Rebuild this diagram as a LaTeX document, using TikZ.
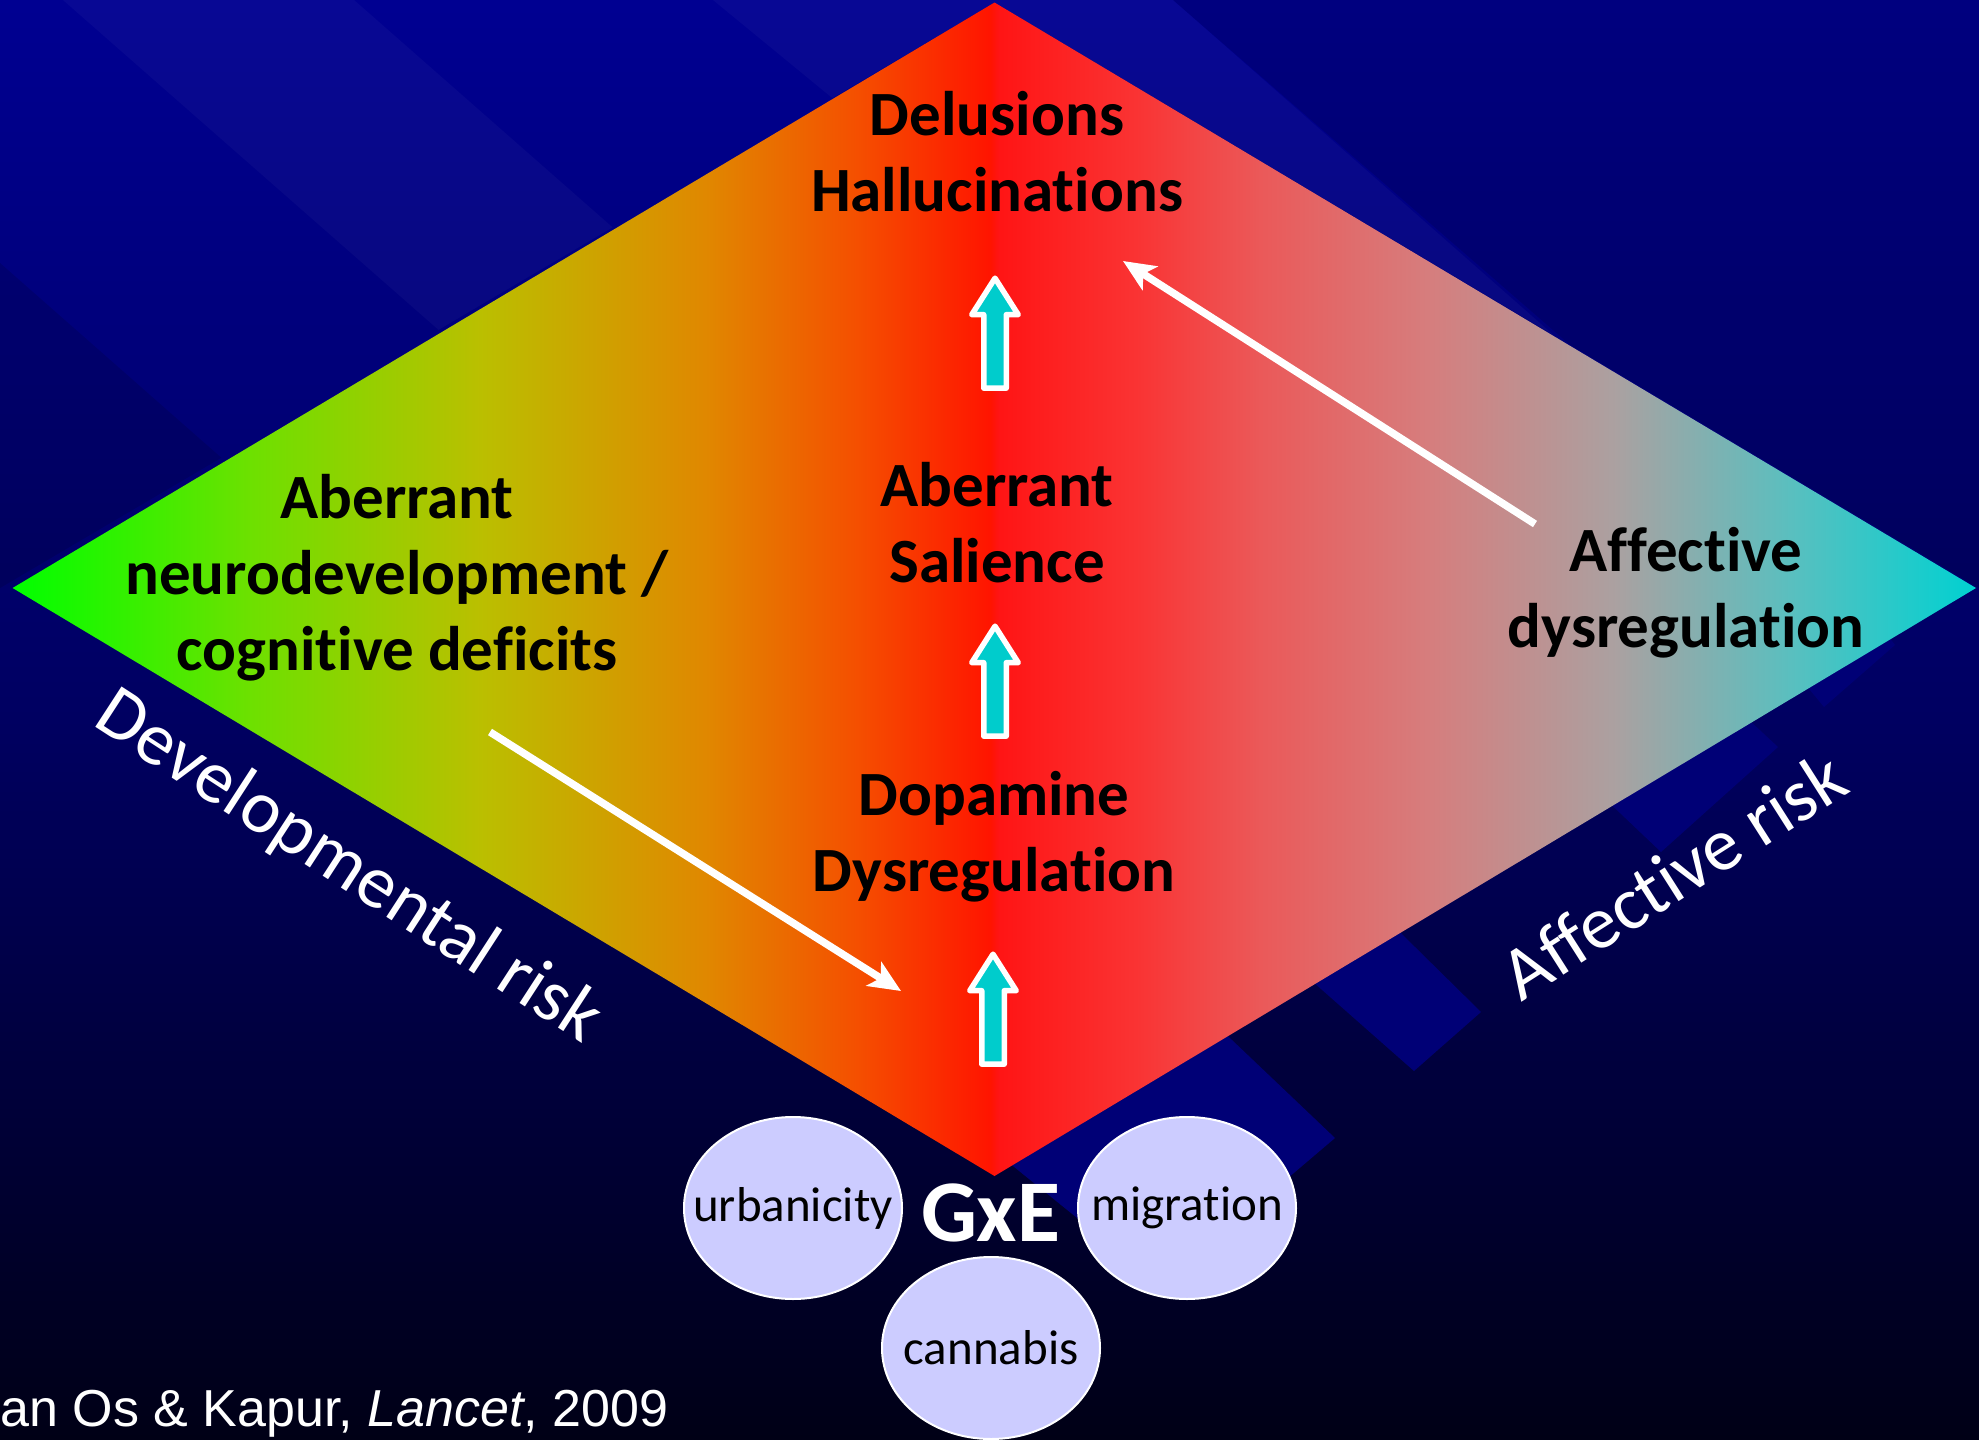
\documentclass[tikz,border=0pt]{standalone}
\usepackage{fontspec}
\setmainfont{Carlito}[Ligatures=NoCommon]
\newfontfamily\citefont{Liberation Sans}
\usetikzlibrary{arrows.meta,calc,positioning,shapes.geometric,shapes.arrows}
\definecolor{psyTile}{RGB}{0,0,118}
\definecolor{psyCyan}{RGB}{0,204,204}
\definecolor{psyLilac}{RGB}{204,204,255}
\pgfdeclareverticalshading{psyBack}{100bp}{rgb(0bp)=(0,0,0.086); rgb(25bp)=(0,0,0.086); rgb(50bp)=(0,0,0.38); rgb(75bp)=(0,0,0.57); rgb(100bp)=(0,0,0.57)}
\pgfdeclarehorizontalshading{psyDiamond}{100bp}{rgb(0bp)=(0,1,0); rgb(25bp)=(0,1,0); rgb(31.1bp)=(0.43,0.88,0); rgb(36.9bp)=(0.73,0.75,0); rgb(42.7bp)=(0.88,0.53,0); rgb(46.5bp)=(0.96,0.31,0); rgb(49.9bp)=(1,0.08,0); rgb(50.1bp)=(1,0.08,0.08); rgb(53.6bp)=(0.98,0.2,0.2); rgb(56.8bp)=(0.92,0.35,0.35); rgb(61bp)=(0.84,0.49,0.49); rgb(65.8bp)=(0.67,0.63,0.63); rgb(70.3bp)=(0.35,0.75,0.75); rgb(75bp)=(0,0.82,0.82); rgb(100bp)=(0,0.82,0.82)}
\begin{document}
\begin{tikzpicture}[x=1pt,y=-1pt,>=Latex,line cap=round,line join=round]
\path[use as bounding box] (0,0) rectangle (1979,1440);
\path[shading=psyBack] (0,0) rectangle (1979,1440);
\tikzset{lightband/.style={fill=white,fill opacity=0.03},darkband/.style={fill=black,fill opacity=0.12},bgtile/.style={fill=psyTile},stagetext/.style={text=black,font=\bfseries\fontsize{63}{76}\selectfont,align=center},risk/.style={text=white,font=\fontsize{75}{88}\selectfont},factor/.style={ellipse,draw=white,line width=2pt,fill=psyLilac,minimum width=218pt,minimum height=182pt,inner sep=0pt,font=\fontsize{49}{58}\selectfont},uparrow/.style={single arrow,draw=white,fill=psyCyan,line width=5.5pt,rotate=90,minimum height=110pt,inner xsep=0pt,inner ysep=8.5pt,single arrow head extend=12pt,single arrow tip angle=65},whitearrow/.style={draw=white,line width=7.5pt,line cap=butt,-{Stealth[length=32pt,width=28pt,inset=8pt]}}}
\begin{scope}
\clip (0,0) -- (1979,0) -- (1979,588) -- (994.5,2.5) -- (0,588) -- cycle;
\path[darkband] (0,263) -- (1300,1407) -- (0,1440) -- cycle;
\path[lightband] (63,0) -- (354,0) -- (1150,700) -- (860,700) -- cycle;
\path[lightband] (713,0) -- (1173,0) -- (1558,339) -- (1200,400) -- cycle;
\path[darkband] (1173,0) -- (1979,0) -- (1979,700) -- cycle;
\end{scope}
\path[bgtile] (950,1115) -- (1150,962) -- (1335,1138) -- (1161,1286) -- cycle;
\path[bgtile] (1270,944) -- (1350,883) -- (1481,1012) -- (1414,1071) -- cycle;
\path[bgtile] (1580,775) -- (1720,693) -- (1778,747) -- (1661,852) -- cycle;
\path[bgtile] (1795,672) -- (1880,625) -- (1895,645) -- (1824,707) -- cycle;
\path[shading=psyDiamond] (994.5,2.5) -- (1976,588) -- (994.5,1176) -- (12.6,588) -- cycle;
\node[stagetext] (halluc) at (997,152) {Delusions\\Hallucinations};
\node[stagetext] (salience) at (997,523) {Aberrant\\Salience};
\node[stagetext] (dopamine) at (994,837) {Dopamine\\Dysregulation};
\node[stagetext] (neuro) at (397,578) {Aberrant\\neurodevelopment /\\cognitive deficits};
\node[stagetext] (affect) at (1686,593) {Affective\\dysregulation};
\node[uparrow] (upA) at (995,342) {};
\node[uparrow] (upB) at (995,690) {};
\node[uparrow] (upC) at (993,1018) {};
\coordinate (devstart) at (490,732); \coordinate (devend) at (901,991);
\coordinate (affstart) at (1535,524); \coordinate (affend) at (1123,261);
\draw[whitearrow] (devstart) -- (devend);
\draw[whitearrow] (affstart) -- (affend);
\node[risk,rotate=-33] (devrisk) at (348,868) {Developmental risk};
\node[risk,rotate=32.5] (affrisk) at (1673,875) {Affective risk};
\node[text=white,font=\bfseries\fontsize{88}{100}\selectfont] (gxe) at (991,1213) {GxE};
\node[factor] (urban) at (793,1208) {\makebox[0pt]{urbanicity}};
\node[factor] (migr) at (1187,1208) {\makebox[0pt]{migration}};
\node[factor] (cannab) at (991,1348) {\makebox[0pt]{cannabis}};
\node[anchor=base east,text=white,font=\citefont\fontsize{52}{62}\selectfont] (cite) at (672,1426) {van Os \& Kapur, \textit{Lancet}, 2009};
\end{tikzpicture}
\end{document}
